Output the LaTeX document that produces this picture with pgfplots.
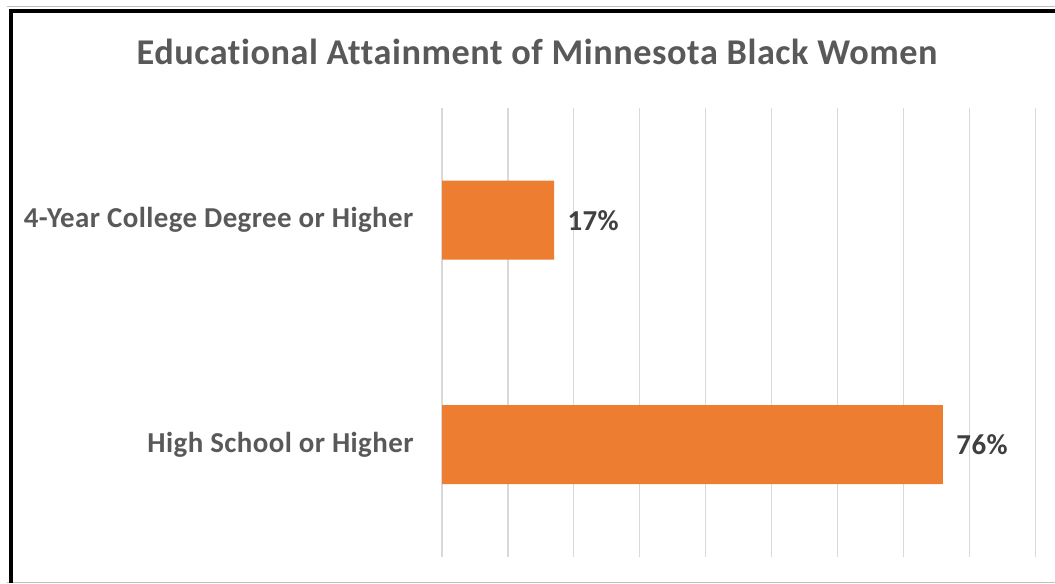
\documentclass[border=0pt]{standalone}
\usepackage{fontspec}
\setmainfont{Carlito}[LetterSpace=1.5, Ligatures=NoCommon]
\usepackage{pgfplots}
\pgfplotsset{compat=1.18}
\definecolor{barorange}{HTML}{ED7D31}
\definecolor{txtgray}{HTML}{595959}
\definecolor{lblgray}{HTML}{404040}
\definecolor{gridgray}{HTML}{D9D9D9}
\definecolor{framegray}{HTML}{BFBFBF}
\begin{document}
\begin{tikzpicture}[x=1bp,y=1bp]
\useasboundingbox (0,0) rectangle (1055,584);
\fill[white] (0,0) rectangle (1055,584);
\draw[framegray, line width=1bp] (7,577) -- (1055,577);
\draw[framegray, line width=1bp] (7,1) -- (1055,1);
\draw[black, line width=4bp] (11,1) -- (11,573) -- (1055,573);
\node[anchor=base, inner sep=0pt, font=\bfseries\fontsize{36.4}{44}\selectfont, text=txtgray] at (537,519) {Educational Attainment of Minnesota Black Women};
\begin{axis}[
  at={(442bp,27bp)}, anchor=south west,
  scale only axis, width=613bp, height=449bp,
  xbar, bar width=79bp,
  xmin=0, xmax=93, ymin=0.5, ymax=2.5,
  ytick={1,2},
  yticklabels={High School or Higher, 4-Year College Degree or Higher},
  xtick={0,10,...,90}, xticklabels={},
  xmajorgrids, grid style={gridgray, line width=1.3bp},
  axis line style={draw=none}, major tick length=0pt,
  y tick label style={font=\bfseries\fontsize{29}{35}\selectfont, text=txtgray, xshift=-25bp},
  /pgf/number format/assume math mode=true,
  nodes near coords={\pgfmathprintnumber{\pgfplotspointmeta}\%},
  nodes near coords style={font=\bfseries\fontsize{29}{35}\selectfont, text=lblgray, anchor=west, xshift=10bp},
  point meta=x,
  clip=false,
]
\addplot[fill=barorange, draw=none] coordinates {(76,1) (17,2)};
\end{axis}
\end{tikzpicture}
\end{document}
